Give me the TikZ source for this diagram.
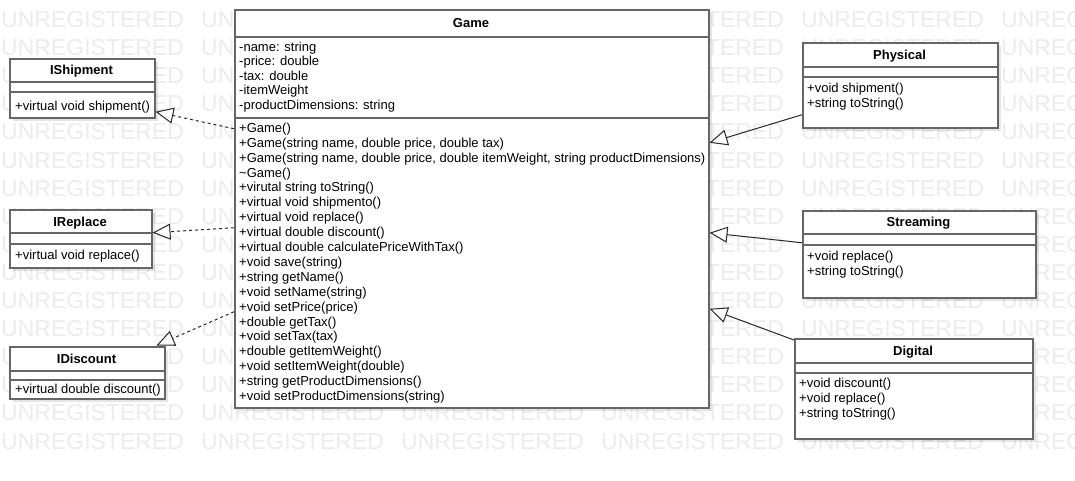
\documentclass[tikz,border=0pt]{standalone}
\usepackage{fontspec}
\setmainfont{Liberation Sans}
\usetikzlibrary{arrows.meta,shadows}
\definecolor{wm}{RGB}{236,236,236}
\definecolor{boxline}{RGB}{102,102,102}
\definecolor{conn}{RGB}{40,40,40}
\tikzset{
  classbox/.style={draw=boxline, line width=1.5pt, fill=white, rectangle, inner sep=0pt, anchor=north west,
    general shadow={fill=black, opacity=0.10, shadow xshift=3pt, shadow yshift=-3pt}},
  sepline/.style={draw=boxline, line width=1.5pt},
  classtitle/.style={font=\fontsize{13}{15}\selectfont\bfseries, anchor=base, inner sep=0pt},
  member/.style={font=\fontsize{13}{15}\selectfont, anchor=base west, inner sep=0pt},
  wmtext/.style={font=\fontsize{23}{25}\selectfont, text=wm, anchor=base west, inner sep=0pt},
  realize/.style={draw=conn, line width=1pt, dash pattern=on 3pt off 3pt, -{Triangle[length=18pt,width=16pt,fill=white]}},
  inherit/.style={draw=conn, line width=1pt, -{Triangle[length=18pt,width=16pt,fill=white]}},
}
\begin{document}
\begin{tikzpicture}[x=1pt,y=-1pt]
\useasboundingbox[fill=white] (0,0) rectangle (1075,480);
% watermark
\begin{scope}
\clip (0,0) rectangle (1075,480);
\foreach \r in {0,...,15}{
  \foreach \c in {0,...,5}{
    \node[wmtext] (wm-\r-\c) at ({\c*200+1},{27.5+\r*28.1}) {UNREGISTERED};
  }}
\end{scope}

% ---------- boxes ----------
\node[classbox, minimum width=474pt, minimum height=398pt] (game) at (234,9) {};
\draw[sepline] ([yshift=-28pt]game.north west) -- ([yshift=-28pt]game.north east);
\draw[sepline] ([yshift=-109pt]game.north west) -- ([yshift=-109pt]game.north east);

\node[classbox, minimum width=145pt, minimum height=59pt] (ishipment) at (9,58) {};
\draw[sepline] ([yshift=-24pt]ishipment.north west) -- ([yshift=-24pt]ishipment.north east);
\draw[sepline] ([yshift=-34pt]ishipment.north west) -- ([yshift=-34pt]ishipment.north east);

\node[classbox, minimum width=142pt, minimum height=58pt] (ireplace) at (9,209) {};
\draw[sepline] ([yshift=-24pt]ireplace.north west) -- ([yshift=-24pt]ireplace.north east);
\draw[sepline] ([yshift=-35pt]ireplace.north west) -- ([yshift=-35pt]ireplace.north east);

\node[classbox, minimum width=155pt, minimum height=52pt] (idiscount) at (9,346) {};
\draw[sepline] ([yshift=-25pt]idiscount.north west) -- ([yshift=-25pt]idiscount.north east);
\draw[sepline] ([yshift=-34pt]idiscount.north west) -- ([yshift=-34pt]idiscount.north east);

\node[classbox, minimum width=195pt, minimum height=85pt] (physical) at (802,42) {};
\draw[sepline] ([yshift=-25pt]physical.north west) -- ([yshift=-25pt]physical.north east);
\draw[sepline] ([yshift=-35pt]physical.north west) -- ([yshift=-35pt]physical.north east);

\node[classbox, minimum width=233pt, minimum height=87pt] (streaming) at (802,210) {};
\draw[sepline] ([yshift=-24pt]streaming.north west) -- ([yshift=-24pt]streaming.north east);
\draw[sepline] ([yshift=-35pt]streaming.north west) -- ([yshift=-35pt]streaming.north east);

\node[classbox, minimum width=238pt, minimum height=100pt] (digital) at (794,338) {};
\draw[sepline] ([yshift=-25pt]digital.north west) -- ([yshift=-25pt]digital.north east);
\draw[sepline] ([yshift=-35pt]digital.north west) -- ([yshift=-35pt]digital.north east);

% ---------- titles ----------
\node[classtitle] (t-game) at (471,27.6) {Game};
\node[classtitle] (t-ishipment) at (81.5,74.7) {IShipment};
\node[classtitle] (t-ireplace) at (80,226) {IReplace};
\node[classtitle] (t-idiscount) at (86.5,363.3) {IDiscount};
\node[classtitle] (t-physical) at (899.5,59) {Physical};
\node[classtitle] (t-streaming) at (918.5,226.8) {Streaming};
\node[classtitle] (t-digital) at (913,355) {Digital};

% ---------- members ----------
\foreach \t [count=\i from 0] in {{-name: string},{-price: double},{-tax: double},{-itemWeight},{-productDimensions: string}}
  \node[member] (ga-\i) at (239,{51+\i*14.6}) {\t};

\foreach \t [count=\i from 0] in {
  {+Game()},
  {+Game(string name, double price, double tax)},
  {+Game(string name, double price, double itemWeight, string productDimensions)},
  {\textasciitilde Game()},
  {+virutal string toString()},
  {+virtual void shipmento()},
  {+virtual void replace()},
  {+virtual double discount()},
  {+virtual double calculatePriceWithTax()},
  {+void save(string)},
  {+string getName()},
  {+void setName(string)},
  {+void setPrice(price)},
  {+double getTax()},
  {+void setTax(tax)},
  {+double getItemWeight()},
  {+void setItemWeight(double)},
  {+string getProductDimensions()},
  {+void setProductDimensions(string)}}
  \node[member] (gm-\i) at (239,{132.3+\i*14.9}) {\t};

\node[member] (m-ishipment) at (15,110) {+virtual void shipment()};
\node[member] (m-ireplace) at (15,259.5) {+virtual void replace()};
\node[member] (m-idiscount) at (15,393) {+virtual double discount()};

\node[member] (m-physical-1) at (807,92) {+void shipment()};
\node[member] (m-physical-2) at (807,107.5) {+string toString()};
\node[member] (m-streaming-1) at (807,260) {+void replace()};
\node[member] (m-streaming-2) at (807,275.5) {+string toString()};
\node[member] (m-digital-1) at (799,387) {+void discount()};
\node[member] (m-digital-2) at (799,402) {+void replace()};
\node[member] (m-digital-3) at (799,417) {+string toString()};

% ---------- connectors ----------
\draw[realize] ([yshift=80pt]game.west) -- ([yshift=-23.5pt]ishipment.east);
\draw[realize] ([yshift=-19pt]game.west) -- ([yshift=6pt]ireplace.east);
\draw[realize] ([yshift=-103pt]game.west) -- ([xshift=-9pt,yshift=0.5pt]idiscount.north east);

\draw[inherit] ([yshift=-29.5pt]physical.west) -- ([yshift=66pt]game.east);
\draw[inherit] ([yshift=11.5pt]streaming.west) -- ([yshift=-24pt]game.east);
\draw[inherit] ([yshift=-2pt]digital.north west) -- ([yshift=-100pt]game.east);
\end{tikzpicture}
\end{document}
